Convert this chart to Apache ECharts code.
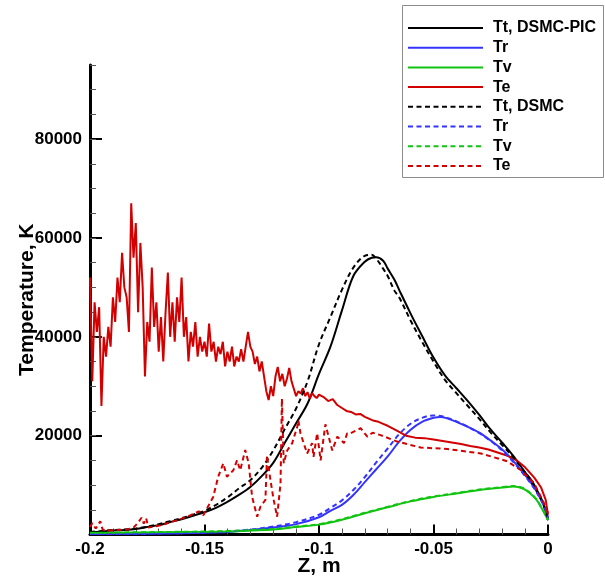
<!DOCTYPE html>
<html>
<head>
<meta charset="utf-8">
<script src="https://cdn.jsdelivr.net/npm/echarts@6/dist/echarts.min.js"></script>
<style>
html,body{margin:0;padding:0;background:#fff;}
#c{width:605px;height:581px;}
</style>
</head>
<body>
<div id="c"></div>
<script>
// ---- Data (Z in m, temperature in K) ----
const zTt = [-0.2,-0.195,-0.19,-0.185,-0.18,-0.175,-0.17,-0.165,-0.16,-0.155,
  -0.15,-0.145,-0.14,-0.135,-0.13,-0.125,-0.12,-0.115,-0.11,-0.105,
  -0.1,-0.095,-0.09,-0.085,-0.08,-0.077,-0.075,-0.072,-0.07,-0.067,
  -0.065,-0.06,-0.055,-0.05,-0.045,-0.04,-0.035,-0.03,-0.025,-0.02,
  -0.015,-0.01,-0.007,-0.004,-0.002,0];
const ttPic = [400,600,800,900,1100,1500,1900,2500,3100,3800,
  4500,5400,6600,8000,9600,11800,14500,18500,22500,26500,
  32500,38000,45300,52300,55200,56000,56100,55400,53800,51500,
  49500,44700,40200,35800,32200,29600,27000,24200,21200,18600,
  15800,12600,10800,8200,6200,2900];
const ttDsmc = [500,700,900,1000,1200,1600,2100,2700,3300,4000,
  4800,6000,7500,9300,11000,13500,17000,21300,25500,31000,
  38500,44000,49500,54000,56400,56600,55800,53800,52300,49300,
  48000,43300,39000,35000,31300,28600,26000,23400,20600,18100,
  15500,12500,10500,8000,6000,3000];

const zTr = [-0.2,-0.18,-0.16,-0.15,-0.14,-0.13,-0.12,-0.11,-0.1,-0.095,
  -0.09,-0.085,-0.08,-0.075,-0.07,-0.065,-0.06,-0.055,-0.05,-0.047,
  -0.044,-0.04,-0.035,-0.03,-0.025,-0.02,-0.015,-0.01,-0.006,-0.003,
  -0.001,0];
const trPic = [100,150,250,350,500,900,1400,2100,3500,4800,
  6000,8000,10600,13200,15800,18800,21200,22800,23600,23800,
  23500,22800,21800,20600,19000,17200,14800,12000,9500,7000,
  5000,3400];
const trDsmc = [100,150,280,400,600,1000,1600,2500,4000,5400,
  6900,9000,11600,14600,17400,20300,22400,23600,24100,24000,
  23600,22900,21800,20500,18900,17000,14600,11800,9300,6900,
  4900,3300];

const zTv = [-0.2,-0.18,-0.16,-0.14,-0.13,-0.12,-0.11,-0.1,-0.09,-0.08,
  -0.07,-0.06,-0.05,-0.04,-0.03,-0.02,-0.015,-0.011,-0.008,-0.005,
  -0.003,-0.001,0];
const tvPic = [300,400,500,600,800,1000,1500,2000,3000,4300,
  5500,6700,7600,8300,9000,9500,9700,9300,8400,7000,
  5500,3800,2900];
const tvDsmc = [350,450,550,700,900,1100,1600,2100,3100,4400,
  5600,6800,7700,8400,9100,9600,9800,9400,8500,7100,
  5600,3900,2900];

const zTePic = [-0.200,-0.199,-0.198,-0.197,-0.196,-0.195,-0.194,-0.193,-0.192,-0.191,
  -0.190,-0.189,-0.188,-0.187,-0.186,-0.185,-0.184,-0.183,-0.182,-0.181,
  -0.180,-0.179,-0.178,-0.177,-0.176,-0.175,-0.174,-0.173,-0.172,-0.171,
  -0.170,-0.169,-0.168,-0.167,-0.166,-0.165,-0.164,-0.163,-0.162,-0.161,
  -0.160,-0.159,-0.158,-0.157,-0.156,-0.155,-0.154,-0.153,-0.152,-0.151,
  -0.150,-0.149,-0.148,-0.147,-0.146,-0.145,-0.144,-0.143,-0.142,-0.141,
  -0.140,-0.139,-0.138,-0.137,-0.136,-0.135,-0.134,-0.133,-0.132,-0.131,
  -0.130,-0.129,-0.128,-0.127,-0.126,-0.125,-0.124,-0.123,-0.122,-0.121,
  -0.120,-0.119,-0.118,-0.117,-0.116,-0.115,-0.114,-0.113,-0.112,-0.111,
  -0.110,-0.109,-0.108,-0.107,-0.106,-0.105,-0.104,-0.103,-0.102,-0.101,
  -0.100,-0.098,-0.096,-0.094,-0.092,-0.090,-0.088,-0.086,-0.084,-0.082,
  -0.080,-0.078,-0.076,-0.074,-0.072,-0.070,-0.066,-0.062,-0.058,-0.054,
  -0.050,-0.046,-0.042,-0.038,-0.034,-0.030,-0.026,-0.022,-0.018,-0.014,
  -0.010,-0.006,-0.003,-0.001,0];
const tePic = [52000,31000,47000,41000,46000,26000,40000,36000,42000,38000,
  48000,43000,52000,47000,57000,50000,48000,41000,67000,56000,
  63000,45000,59000,50000,32000,43000,39000,54000,42000,47000,
  37000,44000,35000,45000,53000,40000,47000,39000,48000,43000,
  52000,40000,44000,35000,41000,38000,43000,36000,40000,37000,
  39000,36000,42700,37000,39000,35000,38000,36500,39000,34000,
  37000,35000,38000,34000,36000,35000,37500,35000,38000,41000,
  38000,37000,34500,36000,33000,35000,32000,29000,27200,30000,
  28000,32000,33900,31000,32500,30000,31500,33700,31000,29500,
  28000,29000,28500,29600,28000,28800,27500,28600,28000,27600,
  28300,27800,27000,27400,26200,25600,25000,24800,24300,24400,
  23800,23400,23000,22800,22400,22000,21000,20000,19600,19500,
  19200,18900,18600,18300,17900,17600,17200,16600,16000,15100,
  13600,11500,9500,7000,4000];

const zTeDsmc = [-0.2,-0.199,-0.1975,-0.1955,-0.1945,-0.192,-0.188,-0.184,-0.181,-0.179,
  -0.1775,-0.1765,-0.1755,-0.1745,-0.172,-0.168,-0.164,-0.160,-0.156,-0.1525,
  -0.1505,-0.1462,-0.144,-0.1418,-0.1402,-0.1374,-0.1358,-0.1344,-0.1322,-0.1307,
  -0.1292,-0.127,-0.1256,-0.1234,-0.1227,-0.1212,-0.1198,-0.1183,-0.1168,-0.1162,
  -0.1154,-0.1139,-0.1117,-0.1095,-0.109,-0.1081,-0.1067,-0.1052,-0.103,-0.1024,
  -0.1008,-0.0993,-0.0972,-0.0942,-0.092,-0.0891,-0.0877,-0.0862,-0.0818,-0.0789,
  -0.0766,-0.0731,-0.0658,-0.0556,-0.0439,-0.0293,-0.0177,-0.0118,-0.0061,-0.0018,
  0];
const teDsmc = [1500,2300,1200,2700,1000,800,900,1000,1400,2400,
  3400,2200,3300,1400,1600,2000,2600,3200,3900,4700,
  3900,7600,11700,14400,11700,13000,15000,13000,17100,14400,
  7600,3600,5600,7000,16000,11000,7000,3600,10300,27500,
  14400,17000,18500,21800,23100,20500,18500,16400,18500,15700,
  20500,15000,22300,17000,19800,18500,20500,20500,21500,19800,
  20600,20100,18800,17600,17300,16400,14800,13000,10400,6400,
  4300];

const xTicks = [-0.2,-0.15,-0.1,-0.05,0];
const yTicks = [20000,40000,60000,80000];
const legendLabels = ['Tt, DSMC-PIC','Tr','Tv','Te','Tt, DSMC','Tr','Tv','Te'];

// ---- Build ----
const FONT = "'Liberation Sans', Arial, sans-serif";
const BLACK = '#000000', BLUE = '#3333ff', GREEN = '#11c411', RED = '#d20000';
const zip = (xs, ys) => xs.map((x, i) => [x, ys[i]]);
const DASH = [5, 3.5];

const seriesDefs = [
  {key:'s0', z:zTt, v:ttPic, color:BLACK, dash:false, smooth:0.35},
  {key:'s1', z:zTr, v:trPic, color:BLUE, dash:false, smooth:0.35},
  {key:'s2', z:zTv, v:tvPic, color:GREEN, dash:false, smooth:0.35},
  {key:'s3', z:zTePic, v:tePic, color:RED, dash:false, smooth:false},
  {key:'s4', z:zTt, v:ttDsmc, color:BLACK, dash:true, smooth:0.35},
  {key:'s5', z:zTr, v:trDsmc, color:BLUE, dash:true, smooth:0.35},
  {key:'s6', z:zTv, v:tvDsmc, color:GREEN, dash:true, smooth:0.35},
  {key:'s7', z:zTeDsmc, v:teDsmc, color:RED, dash:true, smooth:false}
];
const labelMap = {};
seriesDefs.forEach((d, i) => { labelMap[d.key] = legendLabels[i]; });

const GRID = {left: 90, right: 57, top: 65, bottom: 46.5, containLabel: false, outerBoundsMode: 'none'};

const chart = echarts.init(document.getElementById('c'), null, {renderer:'canvas'});
chart.setOption({
  animation: false,
  backgroundColor: '#fff',
  grid: [Object.assign({}, GRID), Object.assign({}, GRID)],
  graphic: [{
    type: 'rect', z: 0,
    shape: {x: 402.5, y: 5.5, width: 201, height: 172},
    style: {fill: '#fff', stroke: '#8c8c8c', lineWidth: 1}
  }],
  legend: {
    orient: 'vertical', left: 407, top: 20, padding: 0, z: 10,
    itemWidth: 75, itemHeight: 14, itemGap: 3.7,
    data: seriesDefs.map(d => d.key),
    formatter: name => labelMap[name],
    itemStyle: {opacity: 0},
    textStyle: {fontFamily: FONT, fontWeight: 'bold', fontSize: 16, color: '#000', padding: [0,0,0,5]}
  },
  xAxis: [{
    type: 'value', gridIndex: 0, min: -0.2, max: 0, interval: 0.05,
    name: 'Z, m', nameLocation: 'middle', nameGap: 21, nameMoveOverlap: false,
    nameTextStyle: {fontFamily: FONT, fontWeight: 'bold', fontSize: 21, color: '#000'},
    axisLine: {show: true, onZero: false, lineStyle: {color: '#000', width: 3}},
    axisTick: {show: true, inside: true, length: 10, lineStyle: {color: '#000', width: 2}},
    minorTick: {show: true, splitNumber: 5, length: 6, lineStyle: {color: '#555', width: 1}},
    axisLabel: {
      show: true, margin: 6, fontFamily: FONT, fontWeight: 'bold', fontSize: 17, color: '#000',
      customValues: xTicks,
      formatter: v => String(parseFloat(v.toFixed(3)))
    },
    splitLine: {show: false}
  }, {
    type: 'value', gridIndex: 1, min: -0.2, max: 0, show: false
  }],
  yAxis: [{
    type: 'value', gridIndex: 0, min: 0, max: 95000, interval: 20000, position: 'left',
    name: 'Temperature, K', nameLocation: 'middle', nameGap: 52, nameRotate: 90, nameMoveOverlap: false,
    nameTextStyle: {fontFamily: FONT, fontWeight: 'bold', fontSize: 21, color: '#000'},
    axisLine: {show: true, onZero: false, lineStyle: {color: '#000', width: 3}},
    axisTick: {show: true, inside: true, length: 12, customValues: yTicks, lineStyle: {color: '#000', width: 2}},
    axisLabel: {show: true, margin: 8, customValues: yTicks, fontFamily: FONT, fontWeight: 'bold', fontSize: 17, color: '#000',
      formatter: v => String(v)},
    splitLine: {show: false}
  }, {
    type: 'value', gridIndex: 1, min: 0, max: 95000, interval: 5000, position: 'left',
    axisLine: {show: false, onZero: false},
    axisTick: {show: true, inside: true, length: 6, lineStyle: {color: '#555', width: 1}},
    axisLabel: {show: false},
    splitLine: {show: false}
  }],
  series: seriesDefs.map(d => ({
    name: d.key, type: 'line', xAxisIndex: 0, yAxisIndex: 0,
    data: zip(d.z, d.v),
    showSymbol: false, symbol: 'none', clip: true,
    smooth: d.smooth,
    color: d.color,
    lineStyle: {color: d.color, width: 2, type: d.dash ? DASH : 'solid'},
    emphasis: {disabled: true}
  }))
});
</script>
</body>
</html>
